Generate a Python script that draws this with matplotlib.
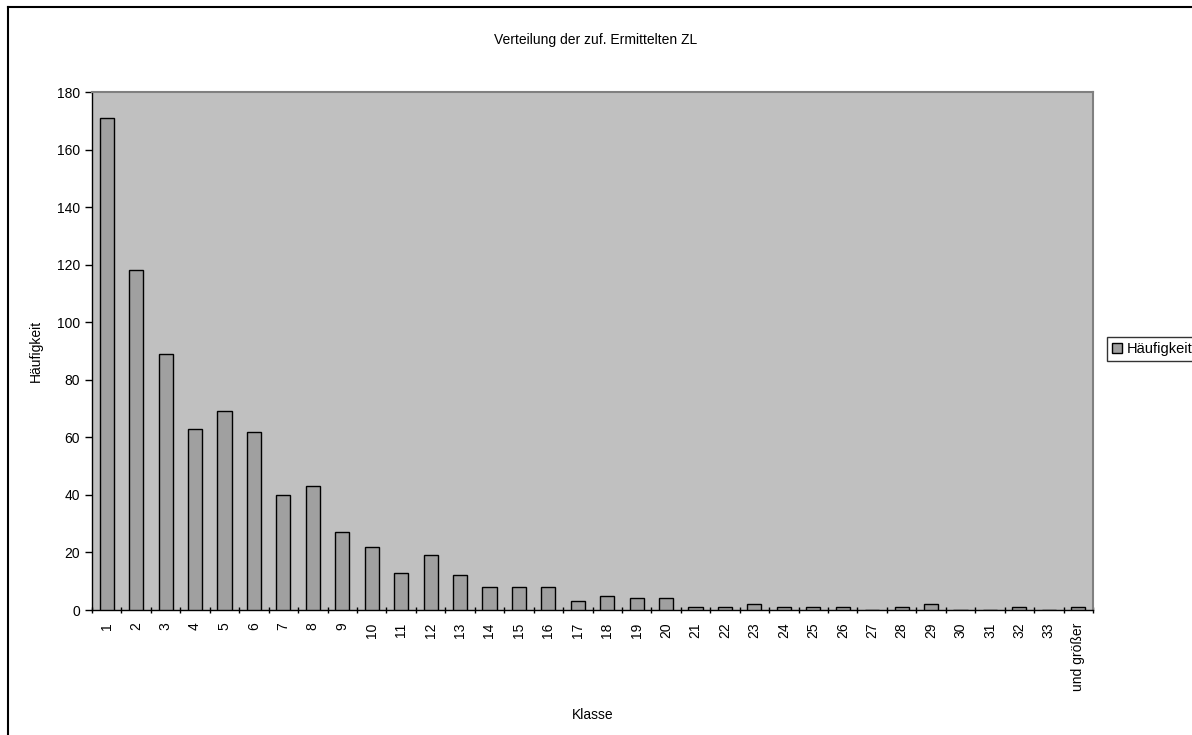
import numpy as np
import matplotlib.pyplot as plt
from matplotlib.lines import Line2D

plt.rcParams['font.family'] = ['Liberation Sans', 'DejaVu Sans']

# Histogram classes and counts
klassen = [str(i) for i in range(1, 34)] + ['und größer']
haeufigkeit = [171, 118, 89, 63, 69, 62, 40, 43, 27, 22, 13, 19, 12, 8, 8, 8,
               3, 5, 4, 4, 1, 1, 2, 1, 1, 1, 0, 1, 2, 0, 0, 1, 0, 1]

fig = plt.figure(figsize=(11.92, 7.35), dpi=100)
ax = fig.add_axes([92 / 1192, 125 / 735, 1001 / 1192, 518 / 735])

x = np.arange(len(klassen))
ax.bar(x, haeufigkeit, width=0.48, color='#a0a0a0', edgecolor='black',
       linewidth=1.0, label='Häufigkeit', zorder=3)

ax.set_facecolor('#c0c0c0')
ax.set_xlim(-0.5, len(klassen) - 0.5)
ax.set_ylim(0, 180)
ax.set_yticks(np.arange(0, 181, 20))

# category labels centered, tick marks at category boundaries
ax.set_xticks(x)
ax.set_xticklabels(klassen, rotation=90)
ax.tick_params(axis='x', which='major', length=0, labelsize=10, pad=9)
ax.set_xticks(np.arange(-0.5, len(klassen), 1), minor=True)
ax.tick_params(axis='x', which='minor', length=5, direction='inout', width=1)
ax.tick_params(axis='y', labelsize=10, length=5, direction='out', width=1)

for s in ['top', 'right']:
    ax.spines[s].set_color('#808080')
    ax.spines[s].set_linewidth(1.5)
for s in ['left', 'bottom']:
    ax.spines[s].set_color('black')
    ax.spines[s].set_linewidth(1.0)

ax.set_xlabel('Klasse', fontsize=10, labelpad=12)
ax.set_ylabel('Häufigkeit', fontsize=10, labelpad=10)
fig.text(0.5, 1 - 40 / 735, 'Verteilung der zuf. Ermittelten ZL', ha='center',
         va='center', fontsize=10)

leg = fig.legend(handles=[plt.Rectangle((0, 0), 1, 1, facecolor='#a0a0a0',
                                         edgecolor='black', linewidth=1)],
                 labels=['Häufigkeit'], loc='center left',
                 bbox_to_anchor=(1107 / 1192, 1 - 349 / 735), fontsize=10.5,
                 frameon=True, fancybox=False, handlelength=0.7,
                 handleheight=0.7, handletextpad=0.3, borderpad=0.35,
                 borderaxespad=0)
leg.get_frame().set_edgecolor('black')
leg.get_frame().set_linewidth(1)

# outer chart border
fig.add_artist(Line2D([8 / 1192, 8 / 1192], [0, 1 - 7 / 735], color='black',
                      linewidth=1.5, transform=fig.transFigure))
fig.add_artist(Line2D([8 / 1192, 1], [1 - 7 / 735, 1 - 7 / 735], color='black',
                      linewidth=1.5, transform=fig.transFigure))

fig.savefig('out.png', dpi=100)
